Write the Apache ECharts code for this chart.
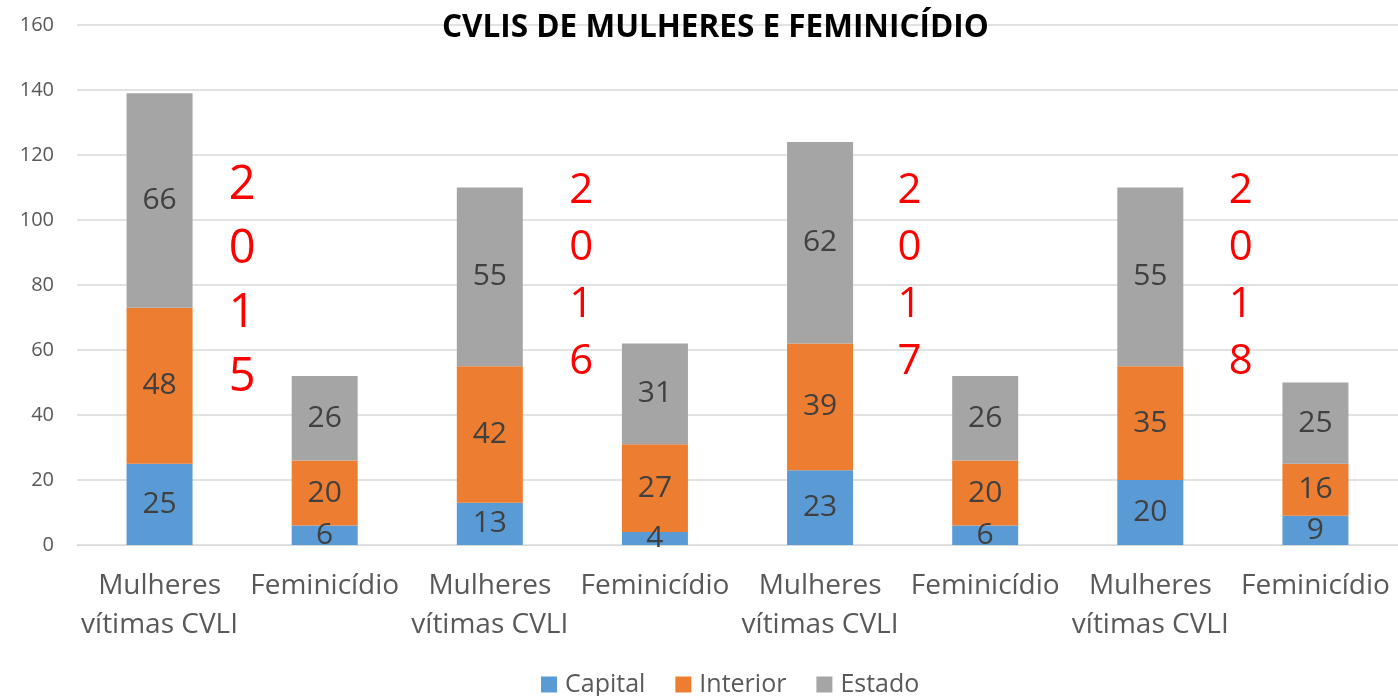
<!DOCTYPE html>
<html>
<head>
<meta charset="utf-8">
<script src="https://cdn.jsdelivr.net/npm/echarts@6/dist/echarts.min.js"></script>
<style>
  html, body { margin: 0; padding: 0; background: #fff; }
  #chart { width: 1398px; height: 696px; }
</style>
</head>
<body>
<div id="chart"></div>
<script>
const categories = [
  'Mulheres\nvítimas CVLI', 'Feminicídio',
  'Mulheres\nvítimas CVLI', 'Feminicídio',
  'Mulheres\nvítimas CVLI', 'Feminicídio',
  'Mulheres\nvítimas CVLI', 'Feminicídio'
]
const capital = [25, 6, 13, 4, 23, 6, 20, 9]
const interior = [48, 20, 42, 27, 39, 20, 35, 16]
const estado = [66, 26, 55, 31, 62, 26, 55, 25]
const years = ['2015', '2016', '2017', '2018']
const yTicks = { min: 0, max: 160, interval: 20 }

const font = '"Open Sans", "Noto Sans", sans-serif'
const chart = echarts.init(document.getElementById('chart'))

function barSeries (name, data, color) {
  return {
    name: name,
    type: 'bar',
    stack: 'total',
    barWidth: 66,
    data: data,
    itemStyle: { color: color },
    label: {
      show: true,
      position: 'inside',
      color: '#404040',
      fontSize: 30,
      fontFamily: font
    }
  }
}

chart.setOption({
  animation: false,
  title: {
    text: 'CVLIS DE MULHERES E FEMINICÍDIO',
    left: 437,
    top: 7,
    textStyle: { fontSize: 31.5, fontWeight: 'bold', color: '#000', fontFamily: font }
  },
  legend: {
    bottom: -6,
    left: 536,
    icon: 'rect',
    itemWidth: 16,
    itemHeight: 16,
    itemGap: 30,
    textStyle: { fontSize: 25, color: '#595959', fontFamily: font, padding: [0, 0, 0, 3] },
    data: ['Capital', 'Interior', 'Estado']
  },
  grid: { left: 77, right: 0, top: 25, bottom: 151, containLabel: false },
  xAxis: {
    type: 'category',
    data: categories,
    axisLine: { lineStyle: { color: '#d9d9d9' } },
    axisTick: { show: false },
    axisLabel: {
      interval: 0,
      margin: 22,
      fontSize: 28,
      lineHeight: 39,
      color: '#595959',
      fontFamily: font
    }
  },
  yAxis: {
    type: 'value',
    min: yTicks.min,
    max: yTicks.max,
    interval: yTicks.interval,
    axisLine: { show: false },
    axisTick: { show: false },
    splitLine: { lineStyle: { color: '#d9d9d9', width: 1.5 } },
    axisLabel: { fontSize: 20, color: '#595959', margin: 23, fontFamily: font }
  },
  series: [
    barSeries('Capital', capital, '#5b9bd5'),
    barSeries('Interior', interior, '#ed7d31'),
    barSeries('Estado', estado, '#a5a5a5')
  ]
})

// year labels sit between each pair of bars
const yearShift = [0, 9, 7, 8]
const yearMid = [81, 82.5, 82.5, 82.5]
const yearGraphics = years.map(function (y, i) {
  const a = chart.convertToPixel({ xAxisIndex: 0 }, i * 2)
  const b = chart.convertToPixel({ xAxisIndex: 0 }, i * 2 + 1)
  const cy = chart.convertToPixel({ yAxisIndex: 0 }, yearMid[i])
  const big = i === 0
  return {
    type: 'text',
    x: (a + b) / 2 + yearShift[i],
    y: cy,
    style: {
      text: y.split('').join('\n'),
      fill: '#ff0000',
      fontSize: big ? 47 : 42,
      lineHeight: big ? 64 : 57,
      fontFamily: font,
      align: 'center',
      verticalAlign: 'middle'
    }
  }
})
chart.setOption({ graphic: yearGraphics })
</script>
</body>
</html>
